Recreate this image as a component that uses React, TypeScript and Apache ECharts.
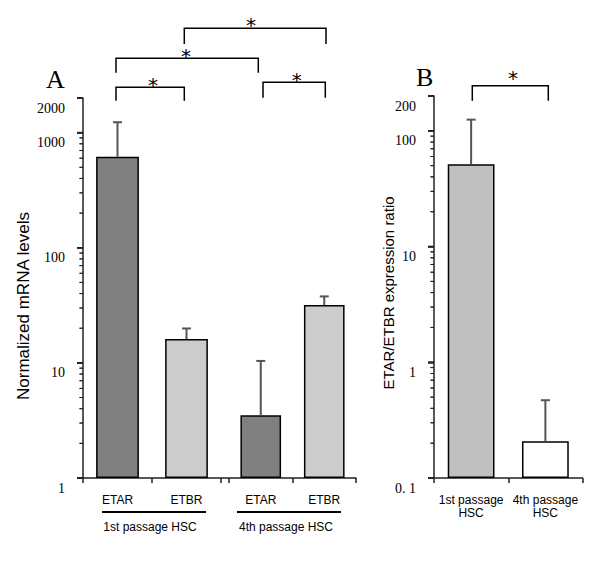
import React, { useEffect, useRef } from 'react';
import * as echarts from 'echarts';

// ---------- data ----------
const categoriesA = ['ETAR', 'ETBR'];
const passage1Values = [618, 16.1];
const passage1ErrorTops = [1232, 19.9];
const passage4Values = [3.5, 31.8];
const passage4ErrorTops = [10.4, 37.8];
const groupLabelsA = ['1st passage HSC', '4th passage HSC'];
const majorTicksA = [1, 10, 100, 1000, 2000];
const minorTicksA = [2, 3, 4, 5, 6, 7, 8, 9, 20, 30, 40, 50, 60, 70, 80, 90, 200, 300, 400, 500, 600, 700, 800, 900];

const categoriesB = ['1st passage\nHSC', '4th passage\nHSC'];
const ratioValues = [51.4, 0.208];
const ratioErrorTops = [125, 0.47];
const majorTicksB = [0.1, 1, 10, 100, 200];
const minorTicksB = [0.2, 0.3, 0.4, 0.5, 0.6, 0.7, 0.8, 0.9, 2, 3, 4, 5, 6, 7, 8, 9, 20, 30, 40, 50, 60, 70, 80, 90];

const colorsA = ['#808080', '#cccccc'];
const colorsB = ['#c0c0c0', '#ffffff'];

const titleA = 'Normalized mRNA levels';
const titleB = 'ETAR/ETBR expression ratio';

// ---------- styles ----------
const SERIF = "'Liberation Serif', 'Times New Roman', serif";
const SANS = "'Liberation Sans', Arial, sans-serif";
const AXIS_COLOR = '#222';
const MAJOR_LEN = 6;
const MINOR_LEN = 3.5;
const GRID_A1 = { left: 83, top: 98, width: 138, height: 380 };
const GRID_A2 = { left: 229, top: 98, width: 127, height: 380 };
const GRID_B = { left: 434, top: 96, width: 148.5, height: 382 };

const fmtTick = (v: number) => {
  if (v < 1) return '0. ' + String(Math.round(v * 10));
  return String(Math.round(v));
};

const errorRender = (_params: any, api: any) => {
  const idx = api.value(0);
  const base = api.coord([idx, api.value(1)]);
  const top = api.coord([idx, api.value(2)]);
  const half = 4.5;
  const style = { stroke: '#555', lineWidth: 2 };
  return {
    type: 'group',
    children: [
      { type: 'line', shape: { x1: base[0], y1: base[1], x2: top[0], y2: top[1] }, style },
      { type: 'line', shape: { x1: top[0] - half, y1: top[1], x2: top[0] + half, y2: top[1] }, style },
    ],
  };
};

// y-axis tick marks: y from the log scale, x at the left edge of the first band
const tickRender = (_params: any, api: any) => {
  const pt = api.coord([0, api.value(1)]);
  const band = api.size([1, 0])[0];
  const x = pt[0] - band / 2;
  const y = pt[1];
  const raw = Number(api.value(2));
  const len = raw > 0 ? raw : MINOR_LEN;
  return {
    type: 'line',
    shape: { x1: x - len, y1: y, x2: x, y2: y },
    style: { stroke: AXIS_COLOR, lineWidth: len > 5 ? 1.5 : 1 },
  };
};

const tickData = (major: number[], minor: number[]) => [
  ...major.map((v) => [0, v, MAJOR_LEN]),
  ...minor.map((v) => [0, v, MINOR_LEN]),
];

const catAxis = (gridIndex: number, data: string[], lineHeight = 14) => ({
  type: 'category',
  gridIndex,
  data,
  boundaryGap: true,
  axisLine: { show: true, lineStyle: { color: AXIS_COLOR, width: 1.5 } },
  axisTick: { show: true, alignWithLabel: false, interval: 0, length: 5, lineStyle: { color: AXIS_COLOR, width: 1.5 } },
  axisLabel: { interval: 0, margin: 15, fontFamily: SANS, fontSize: 12, color: '#000', lineHeight },
  splitLine: { show: false },
});

const majorLogAxis = (gridIndex: number, min: number, max: number, ticks: number[]) => ({
  type: 'log',
  logBase: 10,
  gridIndex,
  min,
  max,
  startValue: min,
  position: 'left',
  axisLine: { show: true, lineStyle: { color: AXIS_COLOR, width: 1.5 } },
  axisTick: { show: true, inside: false, length: MAJOR_LEN, lineStyle: { color: AXIS_COLOR, width: 1.5 } },
  axisLabel: {
    customValues: ticks,
    formatter: fmtTick,
    margin: 18,
    fontFamily: SERIF,
    fontSize: 14,
    color: '#000',
    verticalAlign: 'top',
    lineHeight: 20,
  },
  splitLine: { show: false },
  minorTick: { show: false },
});

const bracket = (x1: number, x2: number, yTop: number, yLeg: number) => ({
  type: 'polyline',
  shape: { points: [[x1, yLeg], [x1, yTop], [x2, yTop], [x2, yLeg]] },
  style: { stroke: '#000', lineWidth: 1.5, fill: null },
});

const star = (x: number, y: number) => ({
  type: 'text',
  x,
  y,
  style: { text: '*', font: `20px 'DejaVu Sans', sans-serif`, fill: '#000', align: 'center', verticalAlign: 'middle' },
});

export default function App() {
  const ref = useRef<HTMLDivElement>(null);

  useEffect(() => {
    document.body.style.margin = '0';
    if (!ref.current) return;
    const chart = echarts.init(ref.current, undefined, { renderer: 'svg' });

    const staticGraphic: any[] = [
      // axis bridge between the two halves of panel A
      { type: 'line', shape: { x1: 221, y1: 478, x2: 229, y2: 478 }, style: { stroke: AXIS_COLOR, lineWidth: 1.5 } },
      // group underlines
      { type: 'line', shape: { x1: 102, y1: 512, x2: 206, y2: 512 }, style: { stroke: '#000', lineWidth: 2 } },
      { type: 'line', shape: { x1: 237, y1: 512, x2: 341, y2: 512 }, style: { stroke: '#000', lineWidth: 2 } },
      { type: 'text', x: 150, y: 527, style: { text: groupLabelsA[0], font: `12px ${SANS}`, fill: '#000', align: 'center', verticalAlign: 'middle' } },
      { type: 'text', x: 286, y: 527, style: { text: groupLabelsA[1], font: `12px ${SANS}`, fill: '#000', align: 'center', verticalAlign: 'middle' } },
      // y titles
      { type: 'text', x: 23, y: 306, rotation: Math.PI / 2, style: { text: titleA, font: `17px ${SANS}`, fill: '#000', align: 'center', verticalAlign: 'middle' } },
      { type: 'text', x: 388, y: 293, rotation: Math.PI / 2, style: { text: titleB, font: `15px ${SANS}`, fill: '#000', align: 'center', verticalAlign: 'middle' } },
      // panel letters
      { type: 'text', x: 46, y: 79, style: { text: 'A', font: `26px ${SERIF}`, fill: '#000', align: 'left', verticalAlign: 'middle' } },
      { type: 'text', x: 416, y: 77, style: { text: 'B', font: `26px ${SERIF}`, fill: '#000', align: 'left', verticalAlign: 'middle' } },
      // significance brackets
      bracket(184.3, 326, 28.3, 44),
      bracket(116, 258.3, 58.3, 72.7),
      bracket(116, 184.3, 87.3, 100.7),
      bracket(263, 325.3, 82.3, 97.7),
      bracket(472.3, 548.3, 85.7, 100.7),
      star(251, 25),
      star(186, 56),
      star(153, 85),
      star(296.7, 80),
      star(513, 78),
    ];

    const option: any = {
      animation: false,
      backgroundColor: '#ffffff',
      grid: [GRID_A1, GRID_A2, GRID_B],
      xAxis: [
        catAxis(0, categoriesA),
        catAxis(1, categoriesA),
        catAxis(2, categoriesB, 13),
      ],
      yAxis: [
        majorLogAxis(0, 1, 2000, majorTicksA),
        { type: 'log', logBase: 10, gridIndex: 1, min: 1, max: 2000, startValue: 1, show: false },
        majorLogAxis(2, 0.1, 200, majorTicksB),
      ],
      series: [
        {
          type: 'bar',
          xAxisIndex: 0,
          yAxisIndex: 0,
          barWidth: '62%',
          data: passage1Values.map((v, i) => ({ value: v, itemStyle: { color: colorsA[i] } })),
          itemStyle: { borderColor: '#000', borderWidth: 1.5 },
        },
        {
          type: 'bar',
          xAxisIndex: 1,
          yAxisIndex: 1,
          barWidth: '64%',
          data: passage4Values.map((v, i) => ({ value: v, itemStyle: { color: colorsA[i] } })),
          itemStyle: { borderColor: '#000', borderWidth: 1.5 },
        },
        {
          type: 'bar',
          xAxisIndex: 2,
          yAxisIndex: 2,
          barWidth: '63%',
          data: ratioValues.map((v, i) => ({ value: v, itemStyle: { color: colorsB[i] } })),
          itemStyle: { borderColor: '#000', borderWidth: 1.5 },
        },
        {
          type: 'custom',
          xAxisIndex: 0,
          yAxisIndex: 0,
          renderItem: errorRender,
          encode: { x: 0, y: [1, 2] },
          data: passage1Values.map((v, i) => [i, v, passage1ErrorTops[i]]),
          z: 5,
        },
        {
          type: 'custom',
          xAxisIndex: 1,
          yAxisIndex: 1,
          renderItem: errorRender,
          encode: { x: 0, y: [1, 2] },
          data: passage4Values.map((v, i) => [i, v, passage4ErrorTops[i]]),
          z: 5,
        },
        {
          type: 'custom',
          xAxisIndex: 2,
          yAxisIndex: 2,
          renderItem: errorRender,
          encode: { x: 0, y: [1, 2] },
          data: ratioValues.map((v, i) => [i, v, ratioErrorTops[i]]),
          z: 5,
        },
        {
          type: 'custom',
          xAxisIndex: 0,
          yAxisIndex: 0,
          renderItem: tickRender,
          encode: { x: 0, y: [1, 2] },
          data: tickData(majorTicksA, minorTicksA),
          clip: false,
          silent: true,
          z: 6,
        },
        {
          type: 'custom',
          xAxisIndex: 2,
          yAxisIndex: 2,
          renderItem: tickRender,
          encode: { x: 0, y: [1, 2] },
          data: tickData(majorTicksB, minorTicksB),
          clip: false,
          silent: true,
          z: 6,
        },
      ],
      graphic: staticGraphic,
    };

    chart.setOption(option);

    // additional y-axis tick marks placed through the bar series' own log scales
    const tickLines: any[] = [];
    const addTicks = (seriesIndex: number, xAxis: number, values: number[], len: number, width: number) => {
      values.forEach((v) => {
        let y: any = null;
        try {
          const p: any = chart.convertToPixel({ seriesIndex }, [0, v]);
          y = Array.isArray(p) ? p[1] : p;
        } catch (e) {
          y = null;
        }
        if (typeof y === 'number' && isFinite(y)) {
          tickLines.push({
            type: 'line',
            shape: { x1: xAxis - len, y1: y, x2: xAxis, y2: y },
            style: { stroke: AXIS_COLOR, lineWidth: width },
          });
        }
      });
    };
    addTicks(0, GRID_A1.left, majorTicksA, MAJOR_LEN, 1.5);
    addTicks(0, GRID_A1.left, minorTicksA, MINOR_LEN, 1);
    addTicks(2, GRID_B.left, majorTicksB, MAJOR_LEN, 1.5);
    addTicks(2, GRID_B.left, minorTicksB, MINOR_LEN, 1);

    if (tickLines.length) {
      chart.setOption({ graphic: [...staticGraphic, ...tickLines] });
    }

    return () => chart.dispose();
  }, []);

  return <div ref={ref} style={{ width: 600, height: 564 }} />;
}
